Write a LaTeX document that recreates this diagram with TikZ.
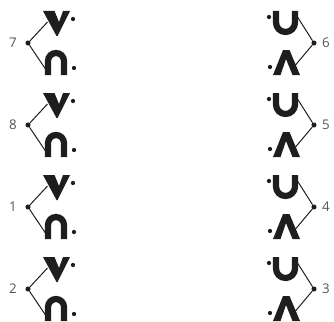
\documentclass[tikz,border=0pt]{standalone}
\usepackage{fontspec}
\setmainfont{Open Sans}
\usepackage{tikz}
\usetikzlibrary{positioning}
\usepackage{xcolor}
\definecolor{ink}{HTML}{1E1E1E}
\definecolor{numgray}{HTML}{555555}

\begin{document}
\begin{tikzpicture}[x=0.75pt,y=-0.75pt,
  dot/.style={circle,fill=ink,inner sep=0pt,minimum size=#1},dot/.default=3.8pt,
  lbl/.style={text=numgray,font=\fontsize{10}{12}\selectfont,inner sep=1pt},
  wire/.style={draw=ink,line width=0.75pt},
  glyphstroke/.style={draw=ink,line width=4.7pt}]
\useasboundingbox (0,0) rectangle (334,321);
% left column: V over n
\foreach \n/\r in {7/0,8/1,1/2,2/3}{
  \pgfmathsetmacro\yy{43+82*\r}
  \begin{scope}[shift={(0,\yy)}]
  \node[lbl] (L\n) at (13,0) {\n};
  \node[dot] (B\n) at (28,0) {};
  \fill[ink] (43,-32) -- (54.5,-32) -- (59,-21) -- (63,-32) -- (70,-32) -- (57.5,-7) -- (56.5,-7) -- cycle;
  \draw[glyphstroke] (48,32) -- (48,18) arc(180:360:8) -- (64,32);
  \node[dot=3.2pt] (vd\n) at (73,-24) {};
  \node[dot=3.2pt] (nd\n) at (74,25) {};
  \coordinate (vt\n) at (47.5,-21);
  \coordinate (nb\n) at (45.5,26);
  \draw[wire] (B\n) -- (vt\n);
  \draw[wire] (B\n) -- (nb\n);
  \end{scope}
}
% right column: U over wedge
\foreach \n/\r in {6/0,5/1,4/2,3/3}{
  \pgfmathsetmacro\yy{43+82*\r}
  \begin{scope}[shift={(0,\yy)}]
  \node[lbl] (R\n) at (326,0) {\n};
  \node[dot] (C\n) at (314,0) {};
  \draw[glyphstroke] (276,-32) -- (276,-20.5) arc(180:0:9.5) -- (295,-32);
  \fill[ink] (273,32) -- (283,7) -- (289.5,7) -- (300,32) -- (292.5,32) -- (286,16) -- (280.5,32) -- cycle;
  \node[dot=3.2pt] (ud\n) at (269,-26) {};
  \node[dot=3.2pt] (wd\n) at (270,24) {};
  \coordinate (ut\n) at (297.5,-26);
  \coordinate (wb\n) at (295.5,22);
  \draw[wire] (C\n) -- (ut\n);
  \draw[wire] (C\n) -- (wb\n);
  \end{scope}
}
\end{tikzpicture}
\end{document}
